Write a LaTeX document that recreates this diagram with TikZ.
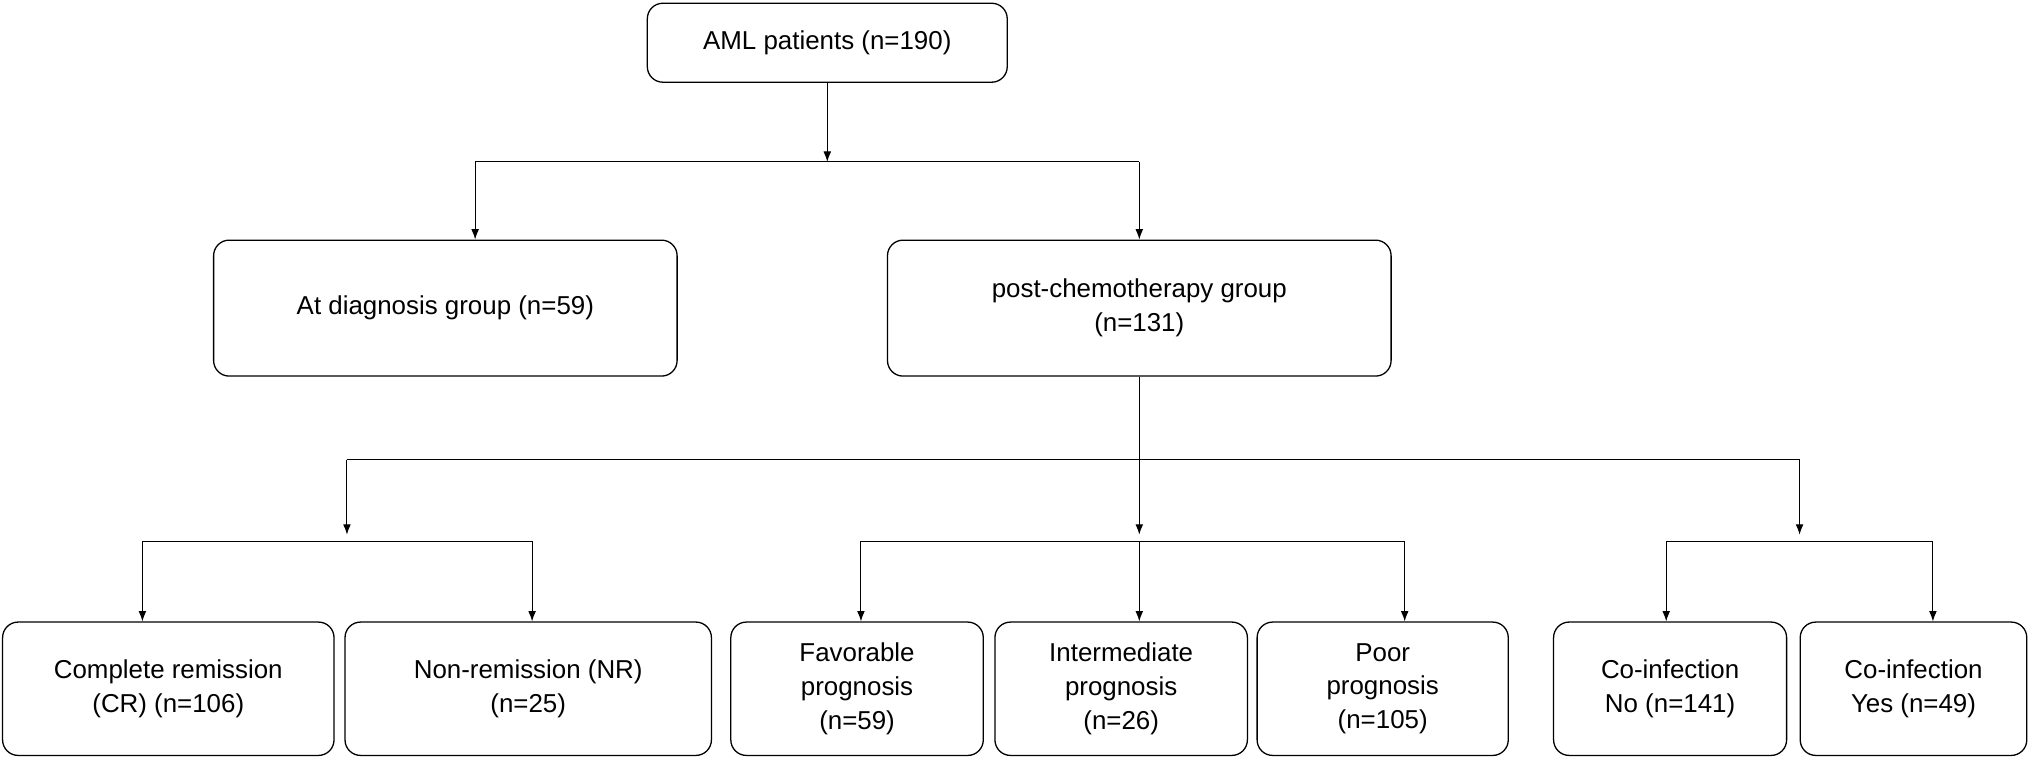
\documentclass[tikz,border=0pt]{standalone}
\usepackage{fontspec}
\setmainfont{Liberation Sans}
\usetikzlibrary{arrows.meta}
\begin{document}
\begin{tikzpicture}[x=1pt,y=1pt,
  box/.style={draw,rounded corners=12pt,line width=1pt,align=center,font=\fontsize{20}{26}\selectfont,inner sep=0pt},
  ln/.style={line width=0.8pt},
  ar/.style={ln,-{Latex[length=8pt,width=6pt]}}]
\useasboundingbox (0,0) rectangle (1568,-593);
\node[box,minimum width=278,minimum height=61] (aml) at (639,-33) {AML patients (n=190)};
\node[box,minimum width=358,minimum height=105] (diag) at (344,-238) {At diagnosis group (n=59)};
\node[box,minimum width=389,minimum height=105] (post) at (880,-238) {post-chemotherapy group\\(n=131)};
\node[box,minimum width=256,minimum height=103] (cr) at (130,-532) {Complete remission\\(CR) (n=106)};
\node[box,minimum width=283,minimum height=103] (nr) at (408,-532) {Non-remission (NR)\\(n=25)};
\node[box,minimum width=195,minimum height=103] (fav) at (662,-532) {Favorable\\prognosis\\(n=59)};
\node[box,minimum width=195,minimum height=103] (int) at (866,-532) {Intermediate\\prognosis\\(n=26)};
\node[box,minimum width=194,minimum height=103] (poor) at (1068,-532) {Poor\\prognosis\\(n=105)};
\node[box,minimum width=180,minimum height=103] (no) at (1290,-532) {Co-infection\\No (n=141)};
\node[box,minimum width=175,minimum height=103] (yes) at (1478,-532) {Co-infection\\Yes (n=49)};
\coordinate (j1) at (639,-125);
\coordinate (j2) at (880,-355);
\coordinate (ja) at (268,-413);
\coordinate (jb) at (880,-413);
\coordinate (jc) at (1390,-413);
\draw[ar] (aml.south) -- (j1);
\draw[ln] (367,-125) -- (880,-125);
\draw[ar] (367,-125) -- (367,-185);
\draw[ar] (880,-125) -- (880,-185);
\draw[ln] (post.south) -- (j2);
\draw[ln] (268,-355) -- (1390,-355);
\draw[ar] (268,-355) -- (ja);
\draw[ar] (j2) -- (jb);
\draw[ar] (1390,-355) -- (jc);
\draw[ln] (110,-418) -- (411,-418);
\draw[ar] (110,-418) -- (110,-480);
\draw[ar] (411,-418) -- (411,-480);
\draw[ln] (665,-418) -- (1085,-418);
\draw[ar] (665,-418) -- (665,-480);
\draw[ar] (880,-418) -- (880,-480);
\draw[ar] (1085,-418) -- (1085,-480);
\draw[ln] (1287,-418) -- (1493,-418);
\draw[ar] (1287,-418) -- (1287,-480);
\draw[ar] (1493,-418) -- (1493,-480);
\end{tikzpicture}
\end{document}
